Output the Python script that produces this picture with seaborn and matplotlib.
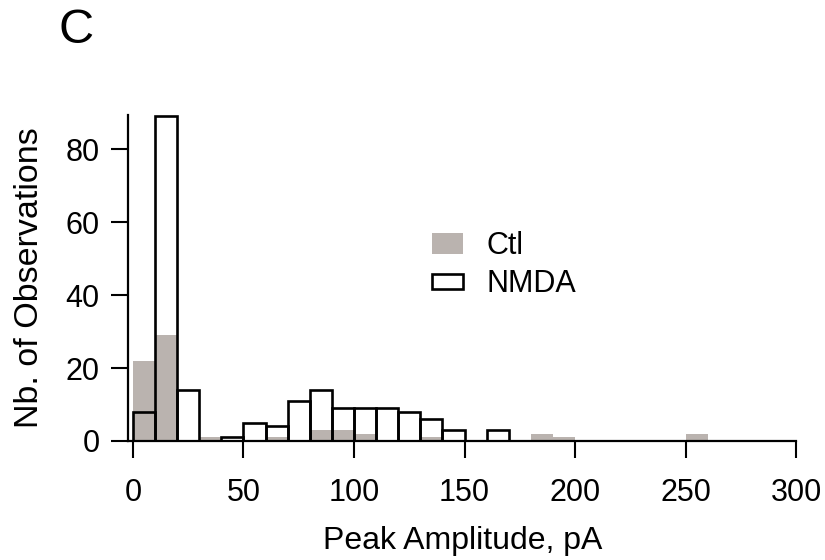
import numpy as np
import pandas as pd
import matplotlib
matplotlib.use("Agg")
import matplotlib.pyplot as plt
from matplotlib.patches import Patch, Rectangle
from matplotlib.legend_handler import HandlerPatch
import seaborn as sns

# Bin left edges (pA), width 10
bin_left = list(range(0, 300, 10))
ctl_counts = [22, 29, 0, 1, 0, 0, 1, 0, 3, 3, 2, 0, 0, 1, 0,
              0, 0, 0, 2, 1, 0, 0, 0, 0, 0, 2, 0, 0, 0, 0]
nmda_counts = [8, 89, 14, 0, 1, 5, 4, 11, 14, 9, 9, 9, 8, 6, 3,
               0, 3, 0, 0, 0, 0, 0, 0, 0, 0, 0, 0, 0, 0, 0]
series_labels = ["Ctl", "NMDA"]
x_ticks = [0, 50, 100, 150, 200, 250, 300]
y_ticks = [0, 20, 40, 60, 80]

sns.set_style("ticks")
plt.rcParams["font.family"] = ["Liberation Sans", "DejaVu Sans"]
plt.rcParams["text.color"] = "black"
plt.rcParams["axes.labelcolor"] = "black"

gray = "#bab3af"
bw = 10
df = pd.DataFrame({
    "center": np.array(bin_left, dtype=float) + bw / 2,
    "ctl": np.array(ctl_counts, dtype=float),
    "nmda": np.array(nmda_counts, dtype=float),
})

fig = plt.figure(figsize=(8.25, 5.6), dpi=100)
ax = fig.add_axes([0.1555, 0.2125, 0.8095, 0.5821])

sns.histplot(data=df, x="center", weights="ctl", binwidth=bw,
             binrange=(0, 300), color=gray, alpha=1, linewidth=0, ax=ax)
sns.histplot(data=df, x="center", weights="nmda", binwidth=bw,
             binrange=(0, 300), fill=False, color="black", linewidth=1.9,
             ax=ax)

ax.set_xlim(-2.1, 300)
ax.set_ylim(0, 89.4)
ax.set_xticks(x_ticks)
ax.set_yticks(y_ticks)
for s in ["top", "right"]:
    ax.spines[s].set_visible(False)
for s in ["left", "bottom"]:
    ax.spines[s].set_linewidth(1.6)
    ax.spines[s].set_color("black")
ax.tick_params(axis="both", direction="out", length=12.5, width=1.5,
               labelsize=22, colors="black")
ax.tick_params(axis="x", pad=14)
ax.tick_params(axis="y", pad=8)

ax.set_xlabel("Peak Amplitude, pA", fontsize=23, labelpad=13, color="black")
ax.set_ylabel("Nb. of Observations", fontsize=24.5, labelpad=15, color="black")


def short_box(legend, orig_handle, xdescent, ydescent, width, height, fontsize):
    h = height * 0.72
    return Rectangle((-xdescent, -ydescent + (height - h) / 2), width, h)


handles = [Patch(facecolor=gray, edgecolor="none"),
           Patch(facecolor="white", edgecolor="black", linewidth=1.9)]
ax.legend(handles, series_labels, frameon=False, fontsize=22,
          loc="center left", bbox_to_anchor=(0.414, 0.539),
          handlelength=1.0, handleheight=0.7, handletextpad=0.78,
          labelspacing=0.25,
          handler_map={handles[1]: HandlerPatch(patch_func=short_box)})

fig.text(0.071, 0.945, "C", fontsize=35, ha="left", va="center", color="black")

fig.savefig("out.png", dpi=100)
